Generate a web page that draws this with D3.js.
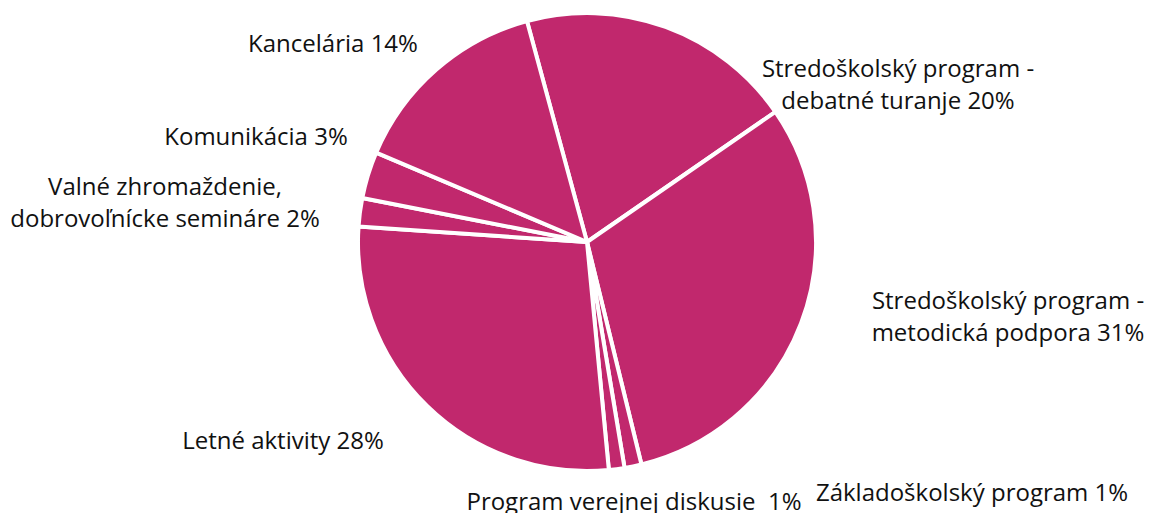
<!DOCTYPE html>
<html lang="sk">
  <head>
    <meta charset="UTF-8" />
    <title>Rozdelenie výdavkov</title>
    <style>
      body { margin: 0; background: #fff; }
      text { font-family: "Source Sans Pro", "Open Sans", sans-serif; font-size: 24px; fill: #111; }
    </style>
  </head>
  <body>
    <svg width="1149" height="513"></svg>
    <script src="https://cdn.jsdelivr.net/npm/d3@7/dist/d3.min.js"></script>
    <script>
      // categories, clockwise from the top-left of the first slice
      var categories = [
        "Stredoškolský program - debatné turanje",
        "Stredoškolský program - metodická podpora",
        "Základoškolský program",
        "Program verejnej diskusie ",
        "Letné aktivity",
        "Valné zhromaždenie, dobrovoľnícke semináre",
        "Komunikácia",
        "Kancelária"
      ];
      var values = [19.6, 30.8, 1.2, 1.1, 27.6, 2.0, 3.3, 14.4];

      // where each label sits and how it wraps (layout only)
      var labelLayout = [
        { x: 898, y: 77, lines: ["Stredoškolský program -", "debatné turanje"] },
        { x: 1008, y: 309, lines: ["Stredoškolský program -", "metodická podpora"] },
        { x: 972, y: 501, lines: ["Základoškolský program"] },
        { x: 634, y: 510, lines: ["Program verejnej diskusie "] },
        { x: 283, y: 449, lines: ["Letné aktivity"] },
        { x: 165, y: 195, lines: ["Valné zhromaždenie,", "dobrovoľnícke semináre"] },
        { x: 256, y: 145, lines: ["Komunikácia"] },
        { x: 333, y: 52, lines: ["Kancelária"] }
      ];

      var svg = d3.select("svg");
      var cx = 587, cy = 242, r = 229;
      var total = d3.sum(values);

      var pie = d3.pie()
        .sort(null)
        .startAngle(-15.2 * Math.PI / 180)
        .endAngle((360 - 15.2) * Math.PI / 180);

      var arc = d3.arc().innerRadius(0).outerRadius(r);

      var g = svg.append("g").attr("transform", "translate(" + cx + "," + cy + ")");

      g.selectAll("path")
        .data(pie(values))
        .enter()
        .append("path")
        .attr("d", arc)
        .attr("fill", "#c1286d")
        .attr("stroke", "#fff")
        .attr("stroke-width", 4)
        .attr("stroke-linejoin", "round");

      var labels = svg.selectAll("text.lbl")
        .data(values)
        .enter()
        .append("text")
        .attr("class", "lbl")
        .attr("text-anchor", "middle")
        .attr("x", function(d, i) { return labelLayout[i].x; })
        .attr("y", function(d, i) { return labelLayout[i].y; });

      labels.each(function(d, i) {
        var t = d3.select(this);
        var lines = labelLayout[i].lines;
        var pct = Math.round(d / total * 100) + "%";
        lines.forEach(function(line, j) {
          t.append("tspan")
            .attr("x", labelLayout[i].x)
            .attr("dy", j === 0 ? 0 : 32)
            .style("white-space", "pre")
            .text(j === lines.length - 1 ? line + " " + pct : line);
        });
      });
    </script>
  </body>
</html>
